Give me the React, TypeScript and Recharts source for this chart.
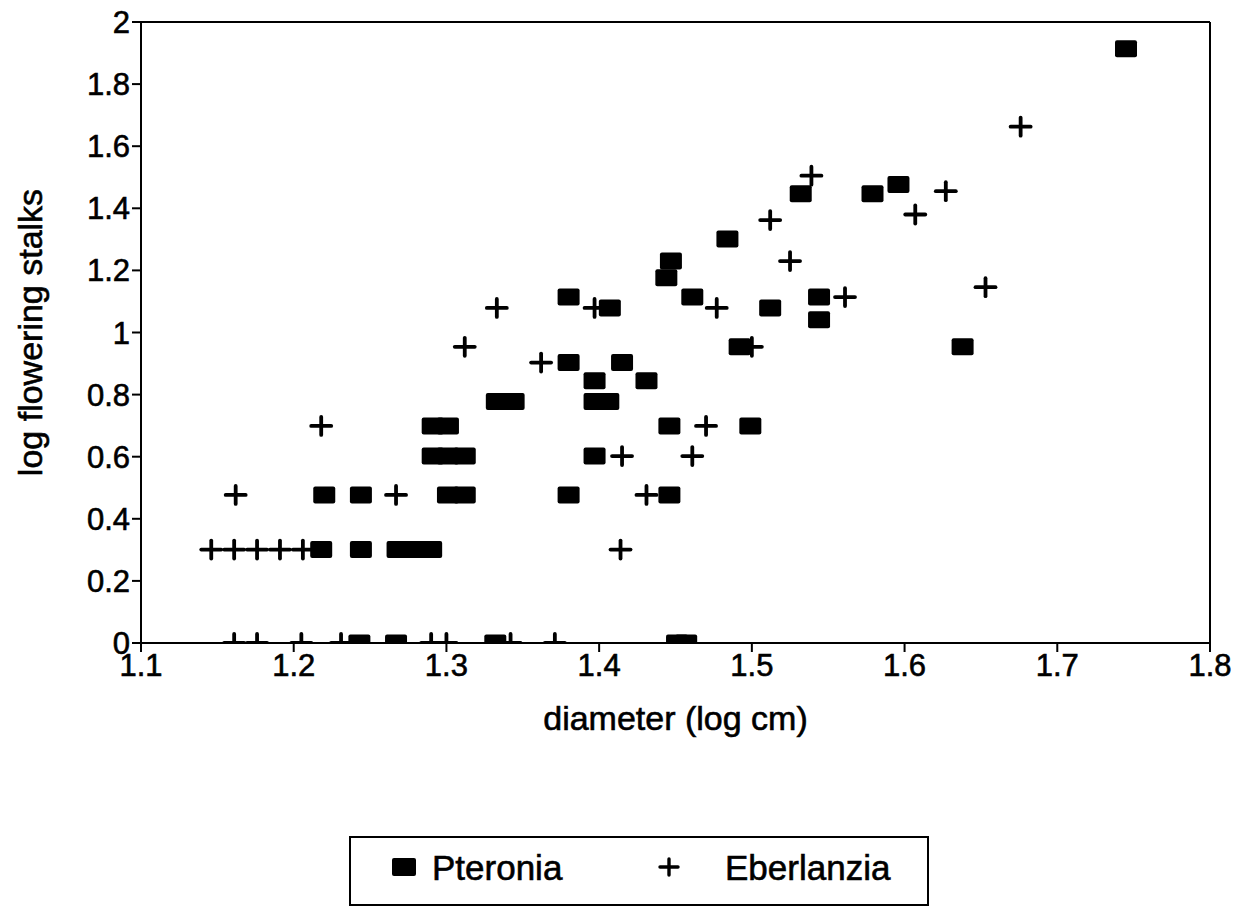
import React from "react";
import { ScatterChart, Scatter, XAxis, YAxis, ReferenceLine } from "recharts";

const X_TICKS = [1.1, 1.2, 1.3, 1.4, 1.5, 1.6, 1.7, 1.8];
const Y_TICKS = [0, 0.2, 0.4, 0.6, 0.8, 1, 1.2, 1.4, 1.6, 1.8, 2];

// Pteronia (filled squares)
const pteroniaDiameter = [
  1.243, 1.267, 1.332, 1.451, 1.457,
  1.218, 1.244, 1.268, 1.279, 1.29,
  1.22, 1.244, 1.301, 1.312, 1.38, 1.446,
  1.291, 1.301, 1.312, 1.397,
  1.291, 1.301, 1.446, 1.499,
  1.333, 1.344, 1.397, 1.406,
  1.397, 1.431,
  1.38, 1.415,
  1.492, 1.638,
  1.544,
  1.407, 1.512,
  1.38, 1.461, 1.544,
  1.444, 1.447, 1.484,
  1.532, 1.579, 1.596, 1.745,
];
const pteroniaStalks = [
  0, 0, 0, 0, 0,
  0.301, 0.301, 0.301, 0.301, 0.301,
  0.477, 0.477, 0.477, 0.477, 0.477, 0.477,
  0.602, 0.602, 0.602, 0.602,
  0.699, 0.699, 0.699, 0.699,
  0.778, 0.778, 0.778, 0.778,
  0.845, 0.845,
  0.903, 0.903,
  0.954, 0.954,
  1.041,
  1.079, 1.079,
  1.114, 1.114, 1.114,
  1.176, 1.23, 1.301,
  1.447, 1.447, 1.477, 1.914,
];

// Eberlanzia (plus signs)
const eberlanziaDiameter = [
  1.161, 1.176, 1.205, 1.231, 1.29, 1.3, 1.342, 1.371,
  1.146, 1.161, 1.176, 1.191, 1.206, 1.414,
  1.162, 1.267, 1.431,
  1.415, 1.461,
  1.218, 1.47,
  1.362,
  1.312, 1.5,
  1.333, 1.397, 1.477,
  1.561, 1.653, 1.525, 1.512, 1.607, 1.627, 1.539, 1.676,
];
const eberlanziaStalks = [
  0, 0, 0, 0, 0, 0, 0, 0,
  0.301, 0.301, 0.301, 0.301, 0.301, 0.301,
  0.477, 0.477, 0.477,
  0.602, 0.602,
  0.699, 0.699,
  0.903,
  0.954, 0.954,
  1.079, 1.079, 1.079,
  1.114, 1.146, 1.23, 1.362, 1.38, 1.455, 1.505, 1.663,
];

const pteronia = pteroniaDiameter.map((x, i) => ({ x, y: pteroniaStalks[i] }));
const eberlanzia = eberlanziaDiameter.map((x, i) => ({ x, y: eberlanziaStalks[i] }));

const FONT = "'Liberation Sans', Arial, sans-serif";
const tickStyle = { fill: "#000", fontSize: 31, fontFamily: FONT, stroke: "#000", strokeWidth: 0.6 };

const SquareMark = (props: any) => {
  const { cx, cy } = props;
  if (cx == null || cy == null) return null;
  return <rect x={cx - 11} y={cy - 8.5} width={22} height={17} rx={2} fill="#000" />;
};

const PlusMark = (props: any) => {
  const { cx, cy } = props;
  if (cx == null || cy == null) return null;
  return (
    <g stroke="#000" strokeWidth={3.8} strokeLinecap="round">
      <line x1={cx - 10} y1={cy} x2={cx + 10} y2={cy} />
      <line x1={cx} y1={cy - 9} x2={cx} y2={cy + 9} />
    </g>
  );
};

const fmt = (v: number) => String(v);

export default function App() {
  return (
    <div style={{ position: "fixed", left: 0, top: 0, width: 1253, height: 906, background: "#fff", fontFamily: FONT }}>
      <ScatterChart width={1253} height={906} margin={{ top: 22, right: 43, bottom: 173, left: 41 }}>
        <XAxis
          type="number"
          dataKey="x"
          domain={[1.1, 1.8]}
          ticks={X_TICKS}
          tickFormatter={fmt}
          allowDataOverflow
          height={90}
          tickSize={9}
          stroke="#000"
          strokeWidth={2}
          tick={tickStyle}
          label={{
            value: "diameter (log cm)",
            position: "insideBottom",
            offset: 3,
            fill: "#000",
            fontSize: 34,
            fontFamily: FONT,
            stroke: "#000",
            strokeWidth: 0.6,
          }}
        />
        <YAxis
          type="number"
          dataKey="y"
          domain={[0, 2]}
          ticks={Y_TICKS}
          tickFormatter={fmt}
          allowDataOverflow
          width={100}
          tickSize={9}
          stroke="#000"
          strokeWidth={2}
          tick={tickStyle}
          label={{
            value: "log flowering stalks",
            angle: -90,
            position: "insideLeft",
            offset: 0,
            dx: -11,
            fill: "#000",
            fontSize: 34,
            fontFamily: FONT,
            stroke: "#000",
            strokeWidth: 0.6,
            style: { textAnchor: "middle" },
          }}
        />
        <ReferenceLine y={2} stroke="#000" strokeWidth={2} />
        <ReferenceLine x={1.8} stroke="#000" strokeWidth={2} />
        <Scatter name="Pteronia" data={pteronia} shape={SquareMark} isAnimationActive={false} />
        <Scatter name="Eberlanzia" data={eberlanzia} shape={PlusMark} isAnimationActive={false} />
      </ScatterChart>
      <div
        style={{
          position: "absolute",
          left: 349,
          top: 836,
          width: 576,
          height: 66,
          border: "2px solid #000",
          fontSize: 35,
          color: "#000",
          WebkitTextStroke: "0.6px #000",
        }}
      >
        <svg width={30} height={30} style={{ position: "absolute", left: 38, top: 14 }}>
          <rect x={3} y={6} width={24} height={18} rx={2} fill="#000" />
        </svg>
        <span style={{ position: "absolute", left: 81, top: 10, lineHeight: "40px" }}>Pteronia</span>
        <svg width={30} height={30} style={{ position: "absolute", left: 303, top: 14 }}>
          <g stroke="#000" strokeWidth={3.4} strokeLinecap="round">
            <line x1={6} y1={15} x2={24} y2={15} />
            <line x1={15} y1={7} x2={15} y2={23} />
          </g>
        </svg>
        <span style={{ position: "absolute", left: 374, top: 10, lineHeight: "40px" }}>Eberlanzia</span>
      </div>
    </div>
  );
}
